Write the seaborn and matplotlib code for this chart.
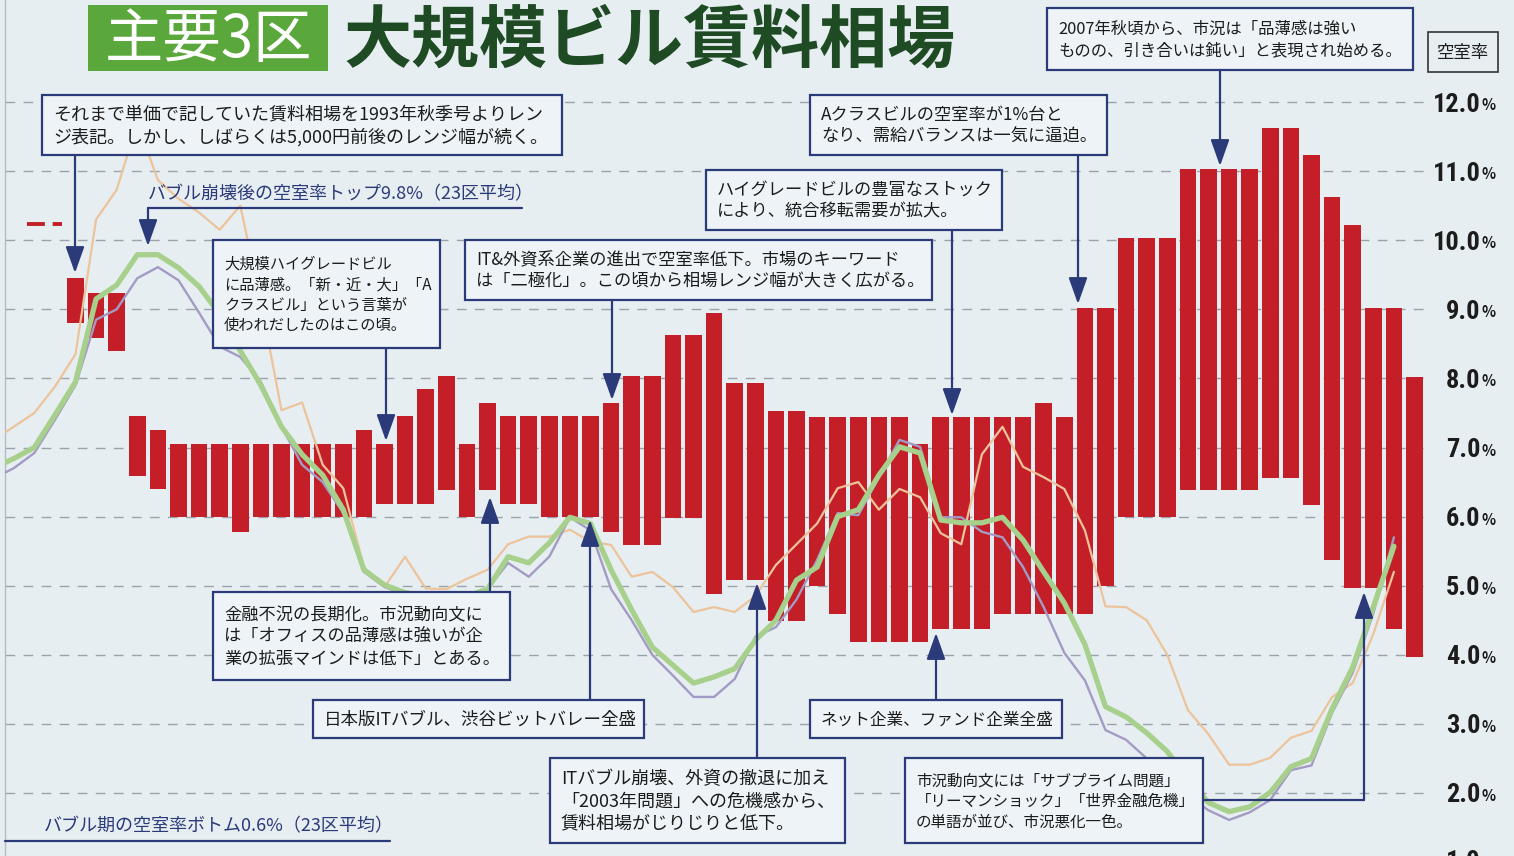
import numpy as np
import pandas as pd
import matplotlib
matplotlib.use("Agg")
import matplotlib.pyplot as plt
import seaborn as sns
from matplotlib.patches import Rectangle
from matplotlib import font_manager

W, H = 1514, 856
BG = "#e7eef2"
RED = "#c41f28"
GREEN = "#a6d08b"
PURPLE = "#a39bc3"
TAN = "#ecc39a"
NAVY = "#2b3a78"
TXT = "#1c1c1c"

# ---------------- data ----------------
# rent range bars (drawn on the same vertical scale as the chart), quarterly from 1993 autumn
quarter = list(range(66))
rent_low = [8.80, 8.58, 8.40, 6.59, 6.40, 6.00, 6.00, 6.00, 5.78, 6.00,
            6.00, 6.00, 6.00, 6.00, 6.00, 6.18, 6.18, 6.18, 6.39, 6.00,
            6.39, 6.18, 6.18, 6.00, 6.00, 6.00, 5.78, 5.59, 5.59, 5.98,
            5.98, 4.88, 5.08, 5.08, 4.49, 4.49, 4.99, 4.59, 4.18, 4.18,
            4.18, 4.18, 4.37, 4.37, 4.37, 4.59, 4.59, 4.59, 4.59, 4.59,
            4.99, 6.00, 6.00, 6.00, 6.38, 6.38, 6.38, 6.38, 6.56, 6.56,
            6.17, 5.37, 4.97, 4.97, 4.37, 3.97]
rent_high = [9.45, 9.24, 9.24, 7.45, 7.25, 7.05, 7.05, 7.05, 7.05, 7.05,
             7.05, 7.05, 7.05, 7.05, 7.25, 7.05, 7.45, 7.84, 8.04, 7.05,
             7.64, 7.45, 7.45, 7.45, 7.45, 7.45, 7.64, 8.04, 8.04, 8.63,
             8.63, 8.94, 7.94, 7.94, 7.53, 7.53, 7.44, 7.44, 7.44, 7.44,
             7.44, 7.05, 7.44, 7.44, 7.44, 7.44, 7.44, 7.64, 7.44, 9.02,
             9.02, 10.03, 10.03, 10.03, 11.03, 11.03, 11.03, 11.03, 11.62, 11.62,
             11.23, 10.62, 10.22, 9.02, 9.02, 8.02]

# vacancy rate lines (%), quarterly
line_q = list(range(-4, 65))
vac_green = [6.70, 6.84, 7.00, 7.47, 7.95, 9.15, 9.35, 9.79, 9.79, 9.60,
             9.33, 8.93, 8.40, 7.90, 7.30, 6.90, 6.60, 6.10, 5.23, 5.01,
             4.90, 4.85, 4.80, 4.85, 4.95, 5.42, 5.33, 5.62, 5.99, 5.90,
             5.23, 4.65, 4.11, 3.85, 3.59, 3.68, 3.80, 4.21, 4.50, 5.08,
             5.27, 6.00, 6.10, 6.60, 7.01, 6.92, 5.95, 5.91, 5.91, 5.99,
             5.66, 5.20, 4.75, 4.15, 3.25, 3.10, 2.87, 2.60, 2.20, 1.86,
             1.73, 1.80, 2.01, 2.38, 2.50, 3.22, 3.82, 4.69, 5.57]
vac_purple = [6.55, 6.70, 6.92, 7.40, 7.90, 8.85, 9.00, 9.45, 9.61, 9.42,
              8.95, 8.46, 8.31, 7.95, 7.30, 6.75, 6.50, 6.05, 5.20, 4.98,
              4.88, 4.82, 4.78, 4.82, 4.95, 5.33, 5.13, 5.42, 5.99, 5.80,
              4.95, 4.50, 4.00, 3.70, 3.39, 3.39, 3.65, 4.26, 4.40, 4.80,
              5.37, 6.05, 6.02, 6.57, 7.11, 7.01, 5.99, 5.99, 5.78, 5.70,
              5.27, 4.69, 4.03, 3.63, 2.91, 2.77, 2.50, 2.20, 1.95, 1.75,
              1.61, 1.72, 1.90, 2.33, 2.40, 3.16, 3.74, 4.60, 5.70]
vac_tan = [7.10, 7.30, 7.50, 7.88, 8.35, 10.30, 10.73, 11.70, 10.87, 10.60,
           10.40, 10.15, 10.50, 9.10, 7.54, 7.65, 6.75, 6.41, 5.27, 4.98,
           5.42, 4.96, 4.95, 5.10, 5.23, 5.60, 5.71, 5.71, 5.81, 5.64,
           5.59, 5.13, 5.20, 4.98, 4.62, 4.69, 4.62, 4.85, 5.30, 5.60,
           5.90, 6.41, 6.50, 6.10, 6.40, 6.28, 5.76, 5.60, 6.90, 7.30,
           6.72, 6.57, 6.40, 5.80, 4.70, 4.69, 4.50, 4.00, 3.20, 2.85,
           2.41, 2.41, 2.51, 2.80, 2.90, 3.39, 3.59, 4.30, 5.20]

# single-price mark before the range notation
pre_q = [-2.35, -0.66]
pre_v = [10.23, 10.23]

tick_vals = list(range(2, 13))
tick_labels = [f"{v}.0" for v in tick_vals]

# ---------------- figure ----------------
sns.set_theme(style="white")
plt.rcParams["font.family"] = ["Noto Sans CJK JP", "DejaVu Sans"]

fig = plt.figure(figsize=(W / 100, H / 100), dpi=100, facecolor=BG)


def fx(x):
    return x / W


def fy(y):
    return 1 - y / H


ax_l, ax_r = 5, 1432
ax = fig.add_axes([fx(ax_l), 0, (ax_r - ax_l) / W, 1])
ax.set_facecolor(BG)

df_bars = pd.DataFrame({"q": quarter,
                        "span": np.array(rent_high) - np.array(rent_low),
                        "low": rent_low})
sns.barplot(data=df_bars, x="q", y="span", bottom=df_bars["low"].values,
            native_scale=True, width=0.8, color=RED, saturation=1,
            errorbar=None, linewidth=0, ax=ax, zorder=2)

sns.lineplot(x=pre_q, y=pre_v, color=RED, lw=2.8, linestyle=(0, (4.6, 2.0)),
             ax=ax, zorder=3)
sns.lineplot(x=line_q, y=vac_tan, color=TAN, lw=1.6, estimator=None,
             sort=False, ax=ax, zorder=4)
sns.lineplot(x=line_q, y=vac_purple, color=PURPLE, lw=1.7, estimator=None,
             sort=False, ax=ax, zorder=5)
sns.lineplot(x=line_q, y=vac_green, color=GREEN, lw=3.8, estimator=None,
             sort=False, ax=ax, zorder=6)

x_left = (ax_l - 75.5) / 20.6
x_right = (ax_r - 75.5) / 20.6
ax.set_xlim(x_left, x_right)
ylo = 12 - (H - 102) / 69.1
yhi = 12 + 102 / 69.1
ax.set_ylim(ylo, yhi)

# narrow font for the right-hand scale if one is installed
names = {f.name for f in font_manager.fontManager.ttflist}
tick_font, tick_stretch = "Roboto", "normal"
for cand in ["Liberation Sans Narrow", "Arial Narrow", "Roboto Condensed",
             "Open Sans Condensed", "DejaVu Sans Condensed"]:
    if cand in names:
        tick_font = cand
        break
else:
    cond = [f for f in font_manager.fontManager.ttflist
            if f.name == "DejaVu Sans" and "ondensed" in f.fname and "Bold" in f.fname]
    if cond:
        tick_font, tick_stretch = "DejaVu Sans", "condensed"

ax.set_xticks([])
ax.set_xlabel("")
ax.set_ylabel("")
ax.yaxis.tick_right()
ax.set_yticks(tick_vals)
ax.set_yticklabels(tick_labels)
ax.tick_params(axis="y", length=0, pad=35, labelsize=19, colors=TXT)
for lbl in ax.get_yticklabels():
    lbl.set_fontfamily(tick_font)
    lbl.set_fontstretch(tick_stretch)
    lbl.set_fontweight("bold")
    lbl.set_horizontalalignment("right")
ax.grid(axis="y", color="#9aa3ab", lw=1.0, linestyle=(0, (7, 6)), zorder=1)
ax.set_axisbelow(True)
for s in ["top", "right", "bottom"]:
    ax.spines[s].set_visible(False)
ax.spines["left"].set_color("#b3bcc4")
ax.spines["left"].set_linewidth(1.0)

for v in tick_vals + [1]:
    ax.annotate("%", xy=(1, v), xycoords=("axes fraction", "data"),
                xytext=(50, -3), textcoords="offset pixels", ha="left",
                va="center", fontsize=10.5, color=TXT, fontweight="bold",
                annotation_clip=False)
ax.annotate("1.0", xy=(1, 1.0), xycoords=("axes fraction", "data"),
            xytext=(48, 0), textcoords="offset pixels", ha="right", va="center",
            fontsize=19, color=TXT, fontweight="bold", family=tick_font,
            fontstretch=tick_stretch, annotation_clip=False)

# ---------------- title ----------------
fig.add_artist(Rectangle((fx(88), fy(71)), (328 - 88) / W, (71 - 5) / H,
                         transform=fig.transFigure, facecolor="#5aa83c",
                         edgecolor="none"))
fig.text(fx(208), fy(40), "主要3区", ha="center", va="center", fontsize=42,
         color="white")
fig.text(fx(343), fy(42), "大規模ビル賃料相場", ha="left", va="center",
         fontsize=49, color="#1f4b24", fontweight="bold")

# ---------------- annotation boxes ----------------
boxes = [
    (42, 95, 562, 155, "それまで単価で記していた賃料相場を1993年秋季号よりレン\nジ表記。しかし、しばらくは5,000円前後のレンジ幅が続く。"),
    (213, 240, 440, 348, "大規模ハイグレードビル\nに品薄感。「新・近・大」「A\nクラスビル」という言葉が\n使われだしたのはこの頃。"),
    (465, 240, 932, 300, "IT&外資系企業の進出で空室率低下。市場のキーワード\nは「二極化」。この頃から相場レンジ幅が大きく広がる。"),
    (706, 170, 1002, 230, "ハイグレードビルの豊富なストック\nにより、統合移転需要が拡大。"),
    (810, 95, 1107, 155, "Aクラスビルの空室率が1%台と\nなり、需給バランスは一気に逼迫。"),
    (1047, 8, 1413, 70, "2007年秋頃から、市況は「品薄感は強い\nものの、引き合いは鈍い」と表現され始める。"),
    (213, 592, 510, 680, "金融不況の長期化。市況動向文に\nは「オフィスの品薄感は強いが企\n業の拡張マインドは低下」とある。"),
    (313, 700, 644, 738, "日本版ITバブル、渋谷ビットバレー全盛"),
    (550, 758, 845, 843, "ITバブル崩壊、外資の撤退に加え\n「2003年問題」への危機感から、\n賃料相場がじりじりと低下。"),
    (810, 700, 1062, 738, "ネット企業、ファンド企業全盛"),
    (905, 758, 1203, 843, "市況動向文には「サブプライム問題」\n「リーマンショック」「世界金融危機」\nの単語が並び、市況悪化一色。"),
]
renderer = fig.canvas.get_renderer()
for x0, y0, x1, y1, t in boxes:
    fig.add_artist(Rectangle((fx(x0), fy(y1)), (x1 - x0) / W, (y1 - y0) / H,
                             transform=fig.transFigure, facecolor="#edf3f6",
                             edgecolor=NAVY, lw=1.6, zorder=4))
    fs = 13.0
    tx = fig.text(fx(x0 + 11), fy((y0 + y1) / 2 + 1), t, ha="left", va="center",
                  fontsize=fs, color=TXT, linespacing=1.28, zorder=5)
    while tx.get_window_extent(renderer).width > (x1 - x0 - 18) and fs > 9:
        fs -= 0.2
        tx.set_fontsize(fs)

# right axis header
fig.add_artist(Rectangle((fx(1428), fy(72)), 70 / W, 40 / H,
                         transform=fig.transFigure, facecolor="none",
                         edgecolor="#333333", lw=1.2, zorder=4))
fig.text(fx(1463), fy(53), "空室率", ha="center", va="center", fontsize=12.5,
         color=TXT, zorder=5)

# underlined notes
fig.text(fx(148), fy(194), "バブル崩壊後の空室率トップ9.8%（23区平均）",
         ha="left", va="center", fontsize=13, color=NAVY, zorder=5)
fig.text(fx(44), fy(826), "バブル期の空室率ボトム0.6%（23区平均）",
         ha="left", va="center", fontsize=13, color=NAVY, zorder=5)


def seg(p0, p1, lw=1.6):
    fig.add_artist(plt.Line2D([fx(p0[0]), fx(p1[0])], [fy(p0[1]), fy(p1[1])],
                              transform=fig.transFigure, color=NAVY, lw=lw,
                              zorder=4))


def arrow(p0, p1):
    ax.annotate("", xy=(fx(p1[0]), fy(p1[1])), xycoords="figure fraction",
                xytext=(fx(p0[0]), fy(p0[1])), textcoords="figure fraction",
                arrowprops=dict(arrowstyle="-|>,head_length=0.9,head_width=0.32",
                                color=NAVY, lw=1.6, shrinkA=0, shrinkB=0,
                                mutation_scale=18),
                annotation_clip=False, zorder=8)


seg((148, 208), (522, 208))
seg((5, 841), (390, 841))
seg((1203, 800), (1364, 800))

arrows = [((75, 155), (75, 273)), ((148, 208), (148, 246)),
          ((386, 348), (386, 441)), ((612, 300), (612, 400)),
          ((952, 230), (952, 415)), ((1078, 155), (1078, 304)),
          ((1220, 70), (1220, 166)), ((490, 592), (490, 497)),
          ((590, 700), (590, 520)), ((757, 758), (757, 583)),
          ((936, 700), (936, 633)), ((1364, 800), (1364, 592))]
for a, b in arrows:
    arrow(a, b)

fig.savefig("out.png", dpi=100, facecolor=BG)
